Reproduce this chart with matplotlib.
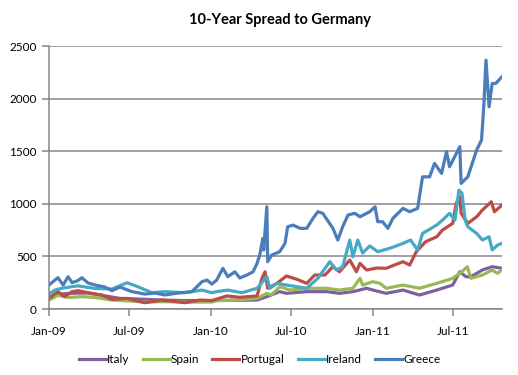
import matplotlib
matplotlib.use("Agg")
import matplotlib.pyplot as plt
import matplotlib.dates as mdates
import pandas as pd

# spreads in basis points
italy_dates = ["2009-01-01", "2009-01-21", "2009-02-22", "2009-03-30", "2009-04-30", "2009-06-10",
               "2009-07-20", "2009-09-13", "2009-11-03", "2010-01-03", "2010-04-15", "2010-05-07",
               "2010-06-05", "2010-06-20", "2010-08-05", "2010-09-19", "2010-10-18", "2010-11-17",
               "2010-12-18", "2011-01-01", "2011-01-31", "2011-03-10", "2011-04-16", "2011-05-25",
               "2011-06-30", "2011-07-16", "2011-07-30", "2011-08-10", "2011-09-05", "2011-09-27",
               "2011-10-19"]
italy = [110, 140, 150, 152, 130, 101, 95, 85, 80, 80, 85, 117, 165, 149, 165, 165, 149, 165,
         197, 180, 149, 180, 133, 180, 228, 354, 307, 307, 371, 402, 387]

spain_dates = ["2009-01-01", "2009-01-21", "2009-02-13", "2009-03-16", "2009-04-15", "2009-05-23",
               "2009-07-07", "2009-08-05", "2009-09-13", "2009-11-03", "2010-01-03", "2010-01-14",
               "2010-02-20", "2010-04-15", "2010-05-07", "2010-05-17", "2010-06-05", "2010-06-28",
               "2010-08-05", "2010-09-19", "2010-10-18", "2010-11-17", "2010-12-03", "2010-12-09",
               "2011-01-01", "2011-01-17", "2011-01-31", "2011-03-10", "2011-04-16", "2011-05-25",
               "2011-06-30", "2011-07-16", "2011-08-02", "2011-08-10", "2011-09-05", "2011-09-27",
               "2011-10-09", "2011-10-19"]
spain = [85, 130, 110, 117, 110, 85, 75, 66, 70, 66, 66, 80, 85, 101, 149, 133, 212, 180,
         197, 197, 180, 197, 292, 228, 260, 244, 197, 228, 197, 244, 292, 339, 402, 292,
         323, 371, 339, 371]

portugal_dates = ["2009-01-01", "2009-01-21", "2009-02-05", "2009-02-22", "2009-03-07", "2009-03-30",
                  "2009-04-30", "2009-05-23", "2009-06-26", "2009-08-05", "2009-09-13", "2009-11-03",
                  "2009-12-07", "2010-01-03", "2010-02-06", "2010-03-07", "2010-04-15", "2010-04-26",
                  "2010-05-03", "2010-05-09", "2010-05-30", "2010-06-20", "2010-07-14", "2010-08-05",
                  "2010-08-23", "2010-09-15", "2010-10-03", "2010-10-18", "2010-11-10", "2010-11-25",
                  "2010-12-03", "2010-12-18", "2011-01-10", "2011-01-31", "2011-03-10", "2011-03-25",
                  "2011-04-09", "2011-04-30", "2011-05-25", "2011-06-07", "2011-06-30", "2011-07-08",
                  "2011-07-16", "2011-07-19", "2011-08-03", "2011-08-23", "2011-09-05", "2011-09-25",
                  "2011-10-02", "2011-10-19"]
portugal = [101, 165, 117, 165, 174, 155, 133, 92, 101, 60, 85, 60, 85, 80, 124, 111, 124, 292,
            354, 197, 244, 314, 282, 244, 323, 323, 402, 354, 466, 354, 434, 371, 390, 387,
            450, 418, 545, 640, 687, 751, 814, 1005, 1068, 910, 814, 877, 941, 1020, 925, 988]

ireland_dates = ["2009-01-01", "2009-01-14", "2009-02-02", "2009-03-07", "2009-04-15", "2009-05-23",
                 "2009-06-26", "2009-07-20", "2009-08-21", "2009-09-19", "2009-11-03", "2009-12-12",
                 "2010-01-03", "2010-01-14", "2010-02-08", "2010-03-12", "2010-04-15", "2010-05-07",
                 "2010-05-14", "2010-05-30", "2010-06-20", "2010-07-14", "2010-08-05", "2010-08-30",
                 "2010-09-26", "2010-10-11", "2010-10-25", "2010-11-10", "2010-11-17", "2010-11-28",
                 "2010-12-09", "2010-12-25", "2011-01-12", "2011-02-08", "2011-03-10", "2011-03-27",
                 "2011-04-12", "2011-04-23", "2011-05-25", "2011-06-07", "2011-06-23", "2011-07-05",
                 "2011-07-14", "2011-07-21", "2011-07-28", "2011-08-03", "2011-08-23", "2011-09-05",
                 "2011-09-20", "2011-09-27", "2011-10-09", "2011-10-19"]
ireland = [142, 180, 200, 220, 195, 190, 250, 212, 155, 165, 155, 180, 155, 165, 180, 155, 197,
           307, 197, 244, 228, 212, 197, 292, 450, 371, 402, 656, 497, 656, 532, 600, 545, 577,
           624, 656, 561, 719, 798, 846, 910, 846, 1131, 1100, 846, 782, 719, 656, 687, 561,
           608, 624]

greece_dates = ["2009-01-01", "2009-01-21", "2009-02-02", "2009-02-13", "2009-02-22", "2009-03-07",
                "2009-03-16", "2009-03-30", "2009-04-15", "2009-05-07", "2009-05-23", "2009-06-10",
                "2009-07-07", "2009-08-05", "2009-08-28", "2009-09-19", "2009-10-19", "2009-11-19",
                "2009-12-12", "2009-12-23", "2010-01-03", "2010-01-14", "2010-01-28", "2010-02-08",
                "2010-02-24", "2010-03-07", "2010-03-23", "2010-04-06", "2010-04-15", "2010-04-21",
                "2010-04-28", "2010-04-30", "2010-05-07", "2010-05-09", "2010-05-18", "2010-06-05",
                "2010-06-17", "2010-06-23", "2010-07-05", "2010-07-21", "2010-08-05", "2010-08-19",
                "2010-08-30", "2010-09-10", "2010-09-23", "2010-10-03", "2010-10-14", "2010-10-25",
                "2010-11-06", "2010-11-21", "2010-12-03", "2010-12-18", "2010-12-25", "2011-01-06",
                "2011-01-12", "2011-01-23", "2011-02-04", "2011-02-15", "2011-03-10", "2011-03-25",
                "2011-04-12", "2011-04-23", "2011-05-09", "2011-05-20", "2011-06-05", "2011-06-16",
                "2011-06-23", "2011-07-16", "2011-07-19", "2011-08-03", "2011-08-23", "2011-09-03",
                "2011-09-08", "2011-09-13", "2011-09-20", "2011-09-27", "2011-10-05", "2011-10-19"]
greece = [228, 298, 228, 307, 250, 270, 298, 247, 228, 209, 174, 209, 165, 142, 152, 133, 152,
          165, 260, 275, 237, 275, 387, 307, 354, 295, 323, 354, 434, 513, 671, 561, 972, 450,
          513, 545, 624, 782, 798, 767, 767, 862, 925, 910, 830, 767, 656, 782, 894, 910, 877,
          910, 925, 972, 830, 830, 767, 862, 957, 925, 957, 1257, 1257, 1385, 1290, 1497, 1353,
          1544, 1195, 1257, 1512, 1607, 1923, 2367, 1923, 2145, 2145, 2208]

series = [("Italy", italy_dates, italy, "#7D60A0"),
          ("Spain", spain_dates, spain, "#98B954"),
          ("Portugal", portugal_dates, portugal, "#BE4B48"),
          ("Ireland", ireland_dates, ireland, "#46AAC5"),
          ("Greece", greece_dates, greece, "#4A7EBB")]

plt.rcParams['font.family'] = ['Lato', 'DejaVu Sans']

fig = plt.figure(figsize=(5.18, 3.75), dpi=100)
ax = fig.add_axes([0.0946, 0.176, 0.8744, 0.701])

for name, d, v, c in series:
    ax.plot(pd.to_datetime(d), v, color=c, lw=2.3, label=name, solid_joinstyle='round')

ax.set_ylim(0, 2500)
ax.set_yticks(range(0, 2501, 500))
ax.set_xlim(pd.Timestamp("2009-01-01"), pd.Timestamp("2011-10-19"))
ax.set_xticks(pd.to_datetime(["2009-01-01", "2009-07-01", "2010-01-01",
                              "2010-07-01", "2011-01-01", "2011-07-01"]))
ax.xaxis.set_major_formatter(mdates.DateFormatter("%b-%y"))

ax.grid(axis='y', color='#868686', lw=1.1)
ax.set_axisbelow(True)
for s in ['top', 'right']:
    ax.spines[s].set_visible(False)
for s in ['left', 'bottom']:
    ax.spines[s].set_color('#868686')
    ax.spines[s].set_linewidth(1.1)
ax.tick_params(axis='both', color='#868686', width=1.1, length=5, labelsize=8.5, pad=4)
ax.tick_params(axis='x', pad=7)

ax.set_title("10-Year Spread to Germany", fontsize=10.5, fontweight='bold', pad=16, x=0.51)

ax.legend(loc='upper center', bbox_to_anchor=(0.465, -0.13), ncol=5, frameon=False,
          fontsize=8.5, handlelength=2.3, handletextpad=0.1, columnspacing=1.1)

fig.savefig("out.png", dpi=100)
